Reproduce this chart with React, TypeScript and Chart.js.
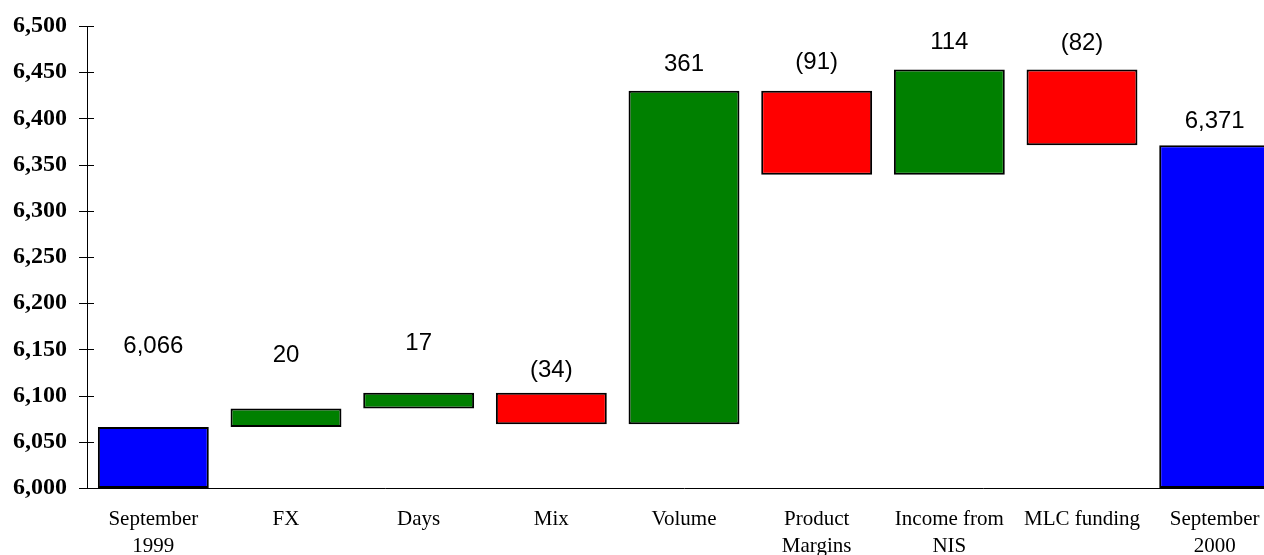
import React, { useEffect, useRef } from "react";
import { Chart, registerables } from "chart.js";

Chart.register(...registerables);

const categories: (string | string[])[] = [
  ["September", "1999"],
  "FX",
  "Days",
  "Mix",
  "Volume",
  ["Product", "Margins"],
  ["Income from", "NIS"],
  "MLC funding",
  ["September", "2000"],
];
const startTotal = 6066;
const changes = [20, 17, -34, 361, -91, 114, -82];
const endTotal = 6371;
// label anchor heights in data units (as placed in the original chart)
const labelAnchors = [6153, 6143, 6156, 6127, 6459, 6461, 6482, 6481, 6397];
const Y_MIN = 6000;
const Y_MAX = 6500;
const Y_STEP = 50;

const BLUE = "#0000FF";
const GREEN = "#008000";
const RED = "#FF0000";

function buildBars() {
  const ranges: [number, number][] = [[Y_MIN, startTotal]];
  const colors: string[] = [BLUE];
  const texts: string[] = [startTotal.toLocaleString("en-US")];
  let run = startTotal;
  for (const c of changes) {
    const next = run + c;
    ranges.push([Math.min(run, next), Math.max(run, next)]);
    colors.push(c >= 0 ? GREEN : RED);
    texts.push(c >= 0 ? String(c) : `(${Math.abs(c)})`);
    run = next;
  }
  ranges.push([Y_MIN, endTotal]);
  colors.push(BLUE);
  texts.push(endTotal.toLocaleString("en-US"));
  return { ranges, colors, texts };
}

export default function App() {
  const ref = useRef<HTMLCanvasElement>(null);
  useEffect(() => {
    const { ranges, colors, texts } = buildBars();
    const tickPlugin = {
      id: "ticksAndLabels",
      afterDatasetsDraw(chart: any) {
        const ctx = chart.ctx;
        const y = chart.scales.y;
        const x = chart.scales.x;
        const left = chart.chartArea.left;
        ctx.save();
        ctx.strokeStyle = "#000";
        ctx.lineWidth = 1;
        y.ticks.forEach((t: any) => {
          const py = Math.round(y.getPixelForValue(t.value)) + 0.5;
          ctx.beginPath();
          ctx.moveTo(left - 8, py);
          ctx.lineTo(left + 7, py);
          ctx.stroke();
        });
        ctx.fillStyle = "#000";
        ctx.font = "24px 'Liberation Sans', Arial, sans-serif";
        ctx.textAlign = "center";
        ctx.textBaseline = "middle";
        texts.forEach((txt, i) => {
          ctx.fillText(txt, x.getPixelForValue(i), y.getPixelForValue(labelAnchors[i]));
        });
        ctx.restore();
      },
    };
    const chart = new Chart(ref.current!, {
      type: "bar",
      data: {
        labels: categories,
        datasets: [
          {
            data: ranges as any,
            backgroundColor: colors,
            borderColor: "#000",
            borderWidth: 2,
            borderSkipped: false,
            categoryPercentage: 1,
            barPercentage: 0.836,
          },
        ],
      },
      options: {
        responsive: false,
        animation: false,
        devicePixelRatio: 1,
        layout: { padding: { top: 26, right: 19, bottom: 12, left: 0 } },
        plugins: { legend: { display: false }, tooltip: { enabled: false } },
        scales: {
          x: {
            grid: { display: false, drawTicks: false },
            border: { display: true, color: "#000", width: 1 },
            ticks: {
              color: "#000",
              padding: 18,
              maxRotation: 0,
              autoSkip: false,
              font: { family: "'Liberation Serif', 'Times New Roman', serif", size: 21, lineHeight: 1.3 },
            },
            afterFit: (s: any) => {
              s.height = 80;
            },
          },
          y: {
            min: Y_MIN,
            max: Y_MAX,
            grid: {
              display: true,
              drawOnChartArea: false,
              drawTicks: true,
              tickLength: 20,
              tickColor: "rgba(0,0,0,0)",
              color: "rgba(0,0,0,0)",
            },
            border: { display: true, color: "#000", width: 1 },
            ticks: {
              stepSize: Y_STEP,
              color: "#000",
              padding: 0,
              font: { family: "'Liberation Serif', 'Times New Roman', serif", size: 24, weight: "bold" },
              callback: (v: any) => Number(v).toLocaleString("en-US"),
            },
            afterFit: (s: any) => {
              s.width = 87;
            },
          },
        },
      },
      plugins: [tickPlugin],
    });
    return () => chart.destroy();
  }, []);
  return (
    <div style={{ position: "fixed", left: 0, top: 0, width: 1264, height: 555, overflow: "hidden", background: "#fff" }}>
      <canvas ref={ref} width={1300} height={580} style={{ display: "block", width: 1300, height: 580 }} />
    </div>
  );
}
